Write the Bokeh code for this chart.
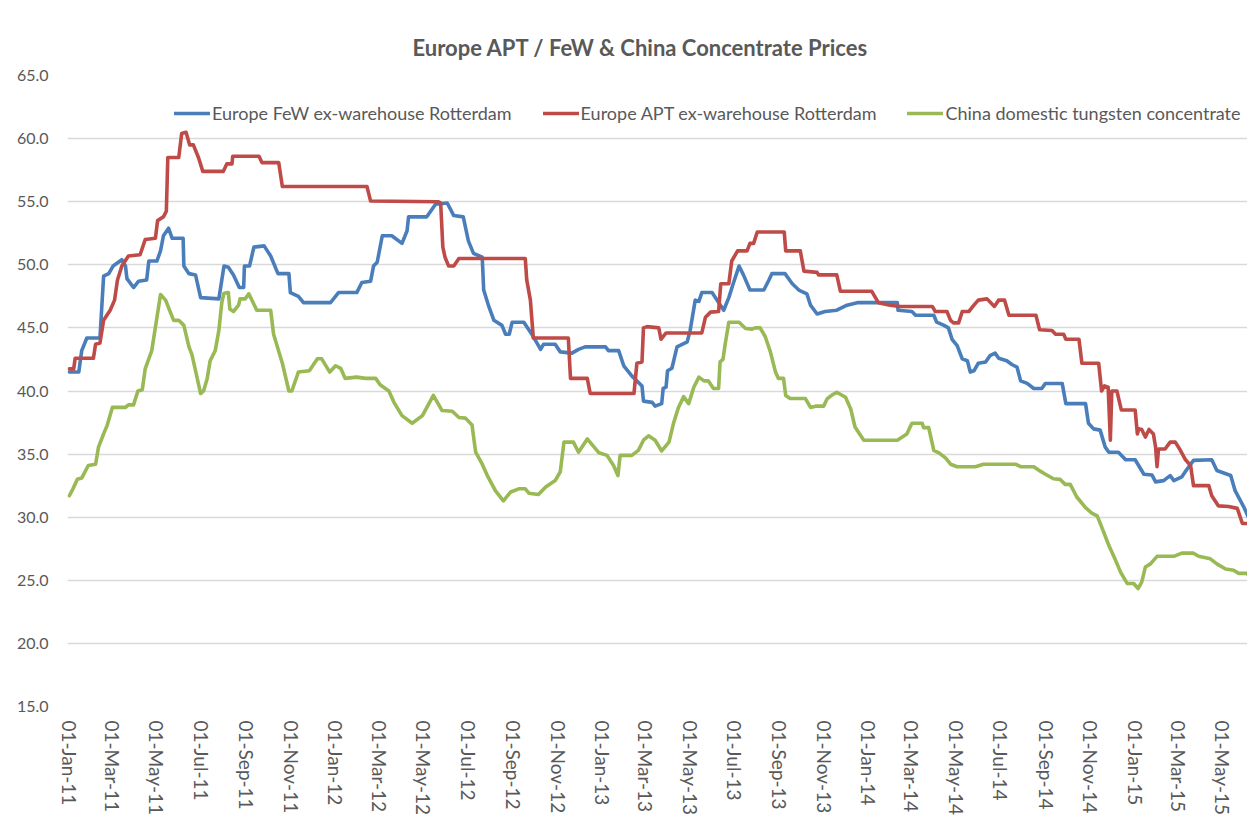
import pandas as pd
from bokeh.plotting import figure
from bokeh.models import (Range1d, FixedTicker, NumeralTickFormatter, Legend, LegendItem)
from bokeh.embed import file_html
from bokeh.resources import INLINE

START = "2011-01-01"

# ---- data (days since 01-Jan-2011, price) ----
few_days = [0,13,17,24,42,47,54,60,72,77,79,88,95,106,109,120,125,129,136,141,
            156,157,164,173,180,205,212,218,225,233,239,240,247,253,267,276,286,301,303,314,
            321,358,369,394,401,413,417,422,429,442,456,463,465,490,502,518,527,540,547,554,
            566,568,575,582,593,598,603,607,623,634,646,650,666,673,689,698,707,735,739,753,
            760,771,785,787,799,803,812,814,818,820,826,833,847,851,858,863,867,881,888,897,
            904,910,918,924,933,952,959,963,981,991,1000,1011,1016,1025,1036,1052,1066,1080,1135,1136,
            1155,1160,1185,1189,1199,1205,1210,1217,1224,1231,1235,1240,1246,1256,1262,1269,1274,1285,1292,1299,
            1304,1313,1322,1333,1338,1361,1366,1393,1397,1404,1413,1420,1425,1438,1448,1461,1473,1484,1489,1500,
            1509,1514,1525,1532,1541,1566,1573,1592,1598,1610,1617,1626]
few_vals = [41.5,41.5,43.2,44.2,44.2,49.1,49.3,49.9,50.4,49.9,48.9,48.2,48.7,48.8,50.3,50.3,51.1,52.3,52.9,52.1,
            52.1,49.9,49.3,49.2,47.4,47.3,49.9,49.8,49.2,48.2,48.2,49.9,49.9,51.4,51.5,50.7,49.3,49.3,47.8,47.5,
            47.0,47.0,47.8,47.8,48.6,48.7,49.9,50.2,52.3,52.3,51.7,52.7,53.8,53.8,54.8,54.9,53.9,53.8,51.9,50.9,
            50.6,48.0,46.7,45.6,45.2,44.5,44.5,45.45,45.45,44.5,43.3,43.7,43.7,43.1,43.0,43.3,43.5,43.5,43.2,43.2,
            42.0,41.2,40.4,39.2,39.1,38.8,39.0,40.2,40.3,41.6,41.8,43.5,43.9,44.8,47.2,47.1,47.8,47.8,47.2,46.4,
            47.4,48.5,49.9,49.2,48.0,48.0,48.8,49.3,49.3,48.5,48.0,47.7,46.8,46.1,46.3,46.4,46.8,47.0,47.0,46.4,
            46.3,46.0,46.0,45.45,45.2,45.0,44.1,43.6,42.55,42.4,41.5,41.6,42.2,42.3,42.8,43.0,42.6,42.4,42.1,41.9,
            40.8,40.6,40.2,40.2,40.6,40.6,39.0,39.0,37.45,37.0,36.9,35.55,35.15,35.15,34.55,34.55,33.4,33.35,32.8,32.9,
            33.3,32.9,33.2,33.8,34.5,34.55,33.7,33.3,32.1,30.8,29.9,29.5]

apt_days = [0,6,8,33,36,42,47,56,62,66,72,81,97,104,118,121,129,133,135,150,
            154,160,165,170,177,183,211,216,223,224,260,264,287,292,408,413,506,509,512,515,
            520,527,534,625,627,632,636,684,687,710,714,774,778,785,787,792,808,811,818,867,
            872,879,890,893,904,908,916,929,933,938,943,980,982,1002,1007,1025,1027,1052,1057,1100,
            1109,1125,1139,1183,1187,1203,1208,1212,1219,1224,1233,1240,1246,1258,1268,1274,1282,1288,1325,1330,
            1347,1352,1363,1366,1384,1388,1411,1415,1419,1424,1427,1429,1436,1442,1461,1464,1466,1470,1475,1480,
            1486,1489,1491,1493,1502,1509,1516,1523,1530,1537,1541,1562,1566,1575,1589,1601,1608,1617,1626]
apt_vals = [41.75,41.75,42.6,42.6,43.7,43.8,45.6,46.4,47.2,48.8,49.9,50.7,50.8,52.0,52.1,53.5,53.8,54.25,58.5,58.5,
            60.4,60.5,59.5,59.5,58.5,57.4,57.4,58.0,58.0,58.6,58.6,58.1,58.1,56.2,56.2,55.05,55.0,54.9,51.4,50.6,
            49.9,49.9,50.5,50.5,48.8,47.2,44.2,44.2,41.0,41.0,39.8,39.8,42.2,42.3,45.0,45.1,45.0,44.1,44.6,44.6,
            45.85,46.25,46.3,48.5,48.5,50.3,51.1,51.1,51.7,51.7,52.6,52.6,51.1,51.1,49.5,49.4,49.2,49.2,47.9,47.9,
            47.0,46.8,46.7,46.7,46.3,46.3,45.6,45.4,45.4,46.3,46.3,46.8,47.2,47.3,46.7,47.2,47.2,46.0,46.0,44.85,
            44.8,44.5,44.5,44.1,44.1,42.2,42.2,40.0,40.4,40.3,36.1,40.0,40.0,38.5,38.5,36.6,37.0,36.95,36.35,36.95,
            36.6,35.55,34.0,35.4,35.4,35.95,35.95,35.3,34.55,34.1,32.5,32.5,31.7,30.9,30.85,30.7,29.5,29.5,28.8]

china_days = [0,5,11,17,26,36,40,47,52,59,77,81,88,94,100,104,113,118,125,132,
              136,143,150,157,164,168,180,184,189,193,200,205,209,212,218,220,225,232,234,241,
              246,257,276,280,292,301,305,314,329,340,346,357,365,372,378,394,406,420,426,438,
              445,456,470,484,499,511,525,534,543,552,557,566,573,584,595,605,616,625,630,643,
              653,666,673,678,691,698,710,726,737,746,752,755,771,780,787,794,803,812,822,828,
              835,842,849,856,863,870,876,883,890,892,896,899,904,918,927,936,940,947,954,961,
              968,972,979,982,988,1009,1016,1023,1034,1039,1046,1052,1064,1071,1077,1089,1135,1148,1155,1169,
              1171,1178,1185,1192,1201,1208,1217,1242,1253,1297,1304,1322,1331,1338,1349,1358,1365,1372,1381,1393,
              1402,1409,1416,1425,1434,1441,1450,1459,1465,1470,1475,1482,1491,1514,1525,1541,1548,1564,1573,1585,
              1596,1603,1614,1626]
china_vals = [31.7,32.25,33.0,33.1,34.1,34.2,35.55,36.6,37.3,38.7,38.7,38.9,38.9,40.0,40.1,41.75,43.2,45.05,47.65,47.2,
              46.6,45.6,45.6,45.2,43.5,42.9,39.8,40.0,41.0,42.4,43.2,44.8,47.0,47.75,47.8,46.5,46.3,46.8,47.3,47.3,
              47.7,46.4,46.4,44.5,42.2,40.0,40.0,41.5,41.6,42.55,42.55,41.5,42.0,41.8,41.0,41.1,41.0,41.0,40.5,40.0,
              39.1,38.05,37.45,38.05,39.65,38.45,38.4,37.9,37.85,37.3,35.15,34.2,33.3,32.1,31.3,32.0,32.25,32.25,31.9,31.8,
              32.4,32.9,33.6,35.95,35.95,35.15,36.2,35.1,34.9,34.1,33.3,34.9,34.9,35.3,36.1,36.45,36.1,35.25,35.95,37.4,
              38.7,39.55,39.0,40.3,41.1,40.8,40.8,40.2,40.2,42.3,42.5,43.7,45.45,45.45,44.95,44.9,45.0,45.0,44.3,43.1,
              41.5,41.0,41.0,39.65,39.4,39.4,38.7,38.8,38.8,39.4,39.7,39.9,39.5,38.6,37.15,36.1,36.1,36.6,37.45,37.45,
              37.1,37.1,35.3,35.1,34.7,34.2,34.0,34.0,34.2,34.2,34.0,34.0,33.65,33.4,33.05,33.0,32.6,32.6,31.6,30.75,
              30.3,30.1,29.1,27.75,26.6,25.65,24.75,24.75,24.35,24.85,26.05,26.3,26.9,26.9,27.15,27.15,26.9,26.7,26.3,25.9,
              25.8,25.55,25.55,24.85]

series_names = ["Europe FeW ex-warehouse Rotterdam",
                "Europe APT ex-warehouse Rotterdam",
                "China domestic tungsten concentrate"]
series_colors = ["#4A7EBB", "#BE4B48", "#98B954"]

tick_labels = ["01-Jan-11", "01-Mar-11", "01-May-11", "01-Jul-11", "01-Sep-11", "01-Nov-11",
               "01-Jan-12", "01-Mar-12", "01-May-12", "01-Jul-12", "01-Sep-12", "01-Nov-12",
               "01-Jan-13", "01-Mar-13", "01-May-13", "01-Jul-13", "01-Sep-13", "01-Nov-13",
               "01-Jan-14", "01-Mar-14", "01-May-14", "01-Jul-14", "01-Sep-14", "01-Nov-14",
               "01-Jan-15", "01-Mar-15", "01-May-15"]
y_ticks = [15, 20, 25, 30, 35, 40, 45, 50, 55, 60, 65]

# ---- build ----
t0 = pd.Timestamp(START)
def to_dates(days):
    return [t0 + pd.Timedelta(days=d) for d in days]

tick_dates = [pd.to_datetime(s, format="%d-%b-%y") for s in tick_labels]
tick_ms = [int(d.value // 10**6) for d in tick_dates]

TEXT = "#595959"
FONT = "Lato"

p = figure(width=1247, height=819, x_axis_type="datetime",
           output_backend="svg", toolbar_location=None,
           x_range=Range1d(t0 - pd.Timedelta(days=2.5), t0 + pd.Timedelta(days=1615)),
           y_range=Range1d(15, 65),
           min_border_left=67, min_border_right=0, min_border_top=75, min_border_bottom=113)

p.background_fill_color = "white"
p.border_fill_color = "white"
p.outline_line_color = None

p.title.text = "Europe APT / FeW & China Concentrate Prices"
p.title.align = "left"
p.title.text_font = FONT
p.title.text_font_size = "22px"
p.title.text_font_style = "bold"
p.title.text_color = TEXT
p.title.offset = 345
p.title.standoff = 30

renderers = []
for days, vals, col in [(few_days, few_vals, series_colors[0]),
                        (apt_days, apt_vals, series_colors[1]),
                        (china_days, china_vals, series_colors[2])]:
    r = p.line(to_dates(days), vals, line_color=col, line_width=3.6,
               line_join="round", line_cap="round")
    renderers.append(r)

# axes
p.yaxis.ticker = FixedTicker(ticks=y_ticks)
p.yaxis.formatter = NumeralTickFormatter(format="0.0")
p.yaxis.axis_line_color = None
p.yaxis.major_tick_line_color = None
p.yaxis.minor_tick_line_color = None
p.yaxis.major_tick_out = 0
p.yaxis.major_label_standoff = 19
p.yaxis.major_label_text_font = FONT
p.yaxis.major_label_text_font_size = "16px"
p.yaxis.major_label_text_color = TEXT

p.xaxis.ticker = FixedTicker(ticks=tick_ms)
p.xaxis.major_label_overrides = {ms: lab for ms, lab in zip(tick_ms, tick_labels)}
p.xaxis.major_label_orientation = "vertical"
p.xaxis.axis_line_color = None
p.xaxis.major_tick_line_color = None
p.xaxis.minor_tick_line_color = None
p.xaxis.major_tick_out = 0
p.xaxis.major_label_standoff = 14
p.xaxis.major_label_text_font = FONT
p.xaxis.major_label_text_font_size = "19px"
p.xaxis.major_label_text_color = TEXT

p.xgrid.grid_line_color = None
p.ygrid.grid_line_color = "#D9D9D9"
p.ygrid.grid_line_width = 1.5

legend = Legend(items=[LegendItem(label=n, renderers=[r]) for n, r in zip(series_names, renderers)],
                orientation="horizontal", location=(107, 582),
                glyph_width=36, glyph_height=20, label_standoff=2, spacing=31,
                padding=0, margin=0, border_line_color=None, background_fill_alpha=0,
                label_text_font=FONT, label_text_font_size="18px", label_text_color=TEXT)
p.add_layout(legend)

open("out.html", "w").write(file_html(p, INLINE))
